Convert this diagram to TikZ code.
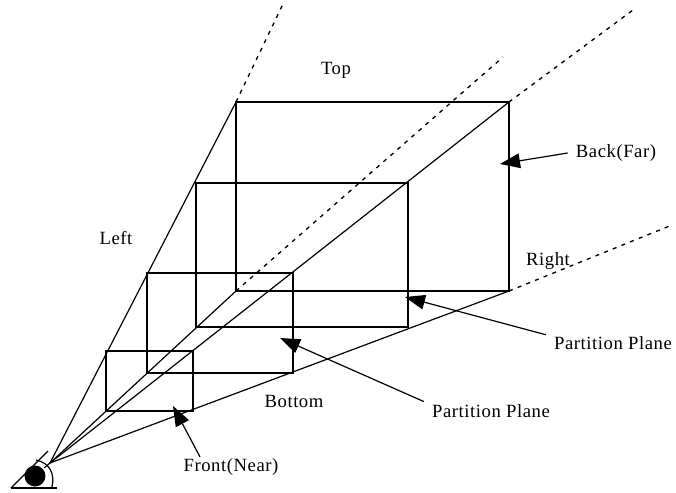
\documentclass[tikz,border=0pt]{standalone}
\usepackage{fontspec}
\setmainfont[LetterSpace=3]{Liberation Serif}
\usetikzlibrary{arrows.meta}
\tikzset{
  edge/.style={line width=0.9pt},
  dotline/.style={line width=1pt,dash pattern=on 3pt off 4pt},
  callout/.style={line width=0.9pt,{Triangle[length=15pt,width=11pt]}-},
  lbl/.style={inner sep=6pt,font=\fontsize{14}{16}\selectfont}
}
\begin{document}
\begin{tikzpicture}[x=0.75pt,y=-0.75pt]
\useasboundingbox (0,0) rectangle (676,493);
% eye
\coordinate (eye) at (50,463);
\fill (35,476) circle (10.5);
\draw[edge] (11,488) -- (57,488);
\draw[edge] (11,488) -- (48,451);
\draw[edge] (52,487) .. controls (55,474) and (50,463) .. (36,460);
\draw[edge] (eye) -- (44,468);
% planes
\draw[edge] (106,351) rectangle (193,411);
\draw[edge] (147,273) rectangle (293,373);
\draw[edge] (196,183) rectangle (408,327);
\draw[edge] (236,102) rectangle (509,291);
\coordinate (backtl) at (236,102);
\coordinate (backtr) at (509,102);
\coordinate (backbl) at (236,291);
\coordinate (backbr) at (509,291);
\draw[edge] (eye) -- (backtl);
\draw[edge] (eye) -- (backtr);
\draw[edge] (eye) -- (backbl);
\draw[edge] (eye) -- (backbr);
\draw[dotline] (backtl) -- (283,4);
\draw[dotline] (backtr) -- (633,10);
\draw[dotline] (backbl) -- (503,57);
\draw[dotline] (backbr) -- (672,225);
% labels
\node[lbl] (top) at (336,70) {Top};
\node[lbl] (left) at (116,238) {Left};
\node[lbl] (right) at (548,261) {Right};
\node[lbl] (bottom) at (294,401) {Bottom};
\node[lbl] (back) at (616,153) {Back(Far)};
\node[lbl] (part1) at (613,343) {Partition Plane};
\node[lbl] (part2) at (491,411) {Partition Plane};
\node[lbl,inner sep=1pt] (front) at (231,467) {Front(Near)};
% arrows
\coordinate (backtip) at (500,164);
\coordinate (part1tip) at (405,297);
\coordinate (part2tip) at (280,338);
\coordinate (fronttip) at (173,406);
\draw[callout] (backtip) -- (back.west);
\draw[callout] (part1tip) -- (part1.173);
\draw[callout] (part2tip) -- (part2.172);
\draw[callout] (fronttip) -- (front.162);
\end{tikzpicture}
\end{document}
